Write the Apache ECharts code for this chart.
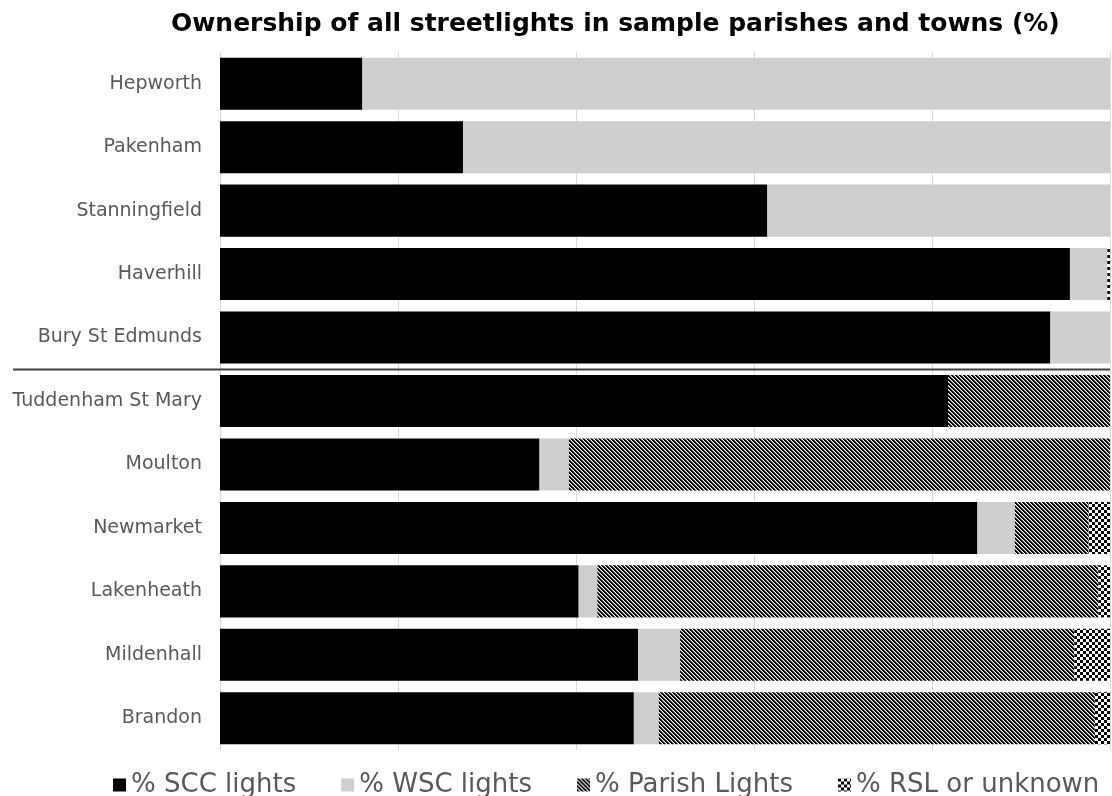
<!DOCTYPE html>
<html><head><meta charset="utf-8">
<script src="https://cdn.jsdelivr.net/npm/echarts@6/dist/echarts.min.js"></script>
<style>html,body{margin:0;padding:0;background:#fff}#c{width:1112px;height:796px}</style>
</head><body><div id="c"></div>
<script>
const categories = ['Hepworth','Pakenham','Stanningfield','Haverhill','Bury St Edmunds','Tuddenham St Mary','Moulton','Newmarket','Lakenheath','Mildenhall','Brandon'];
const sccValues = [16.0, 27.3, 61.5, 95.5, 93.3, 81.8, 35.9, 85.1, 40.3, 47.0, 46.5];
const wscValues = [84.0, 72.7, 38.5, 4.2, 6.7, 0, 3.3, 4.2, 2.1, 4.7, 2.8];
const parishValues = [0, 0, 0, 0, 0, 18.2, 60.8, 8.3, 56.3, 44.3, 49.0];
const rslValues = [0, 0, 0, 0.3, 0, 0, 0, 2.4, 1.3, 4.0, 1.7];
const seriesNames = ['% SCC lights','% WSC lights','% Parish Lights','% RSL or unknown'];
const xTicks = [0, 20, 40, 60, 80, 100];
const separatorAfter = 4; // line between 'Bury St Edmunds' and 'Tuddenham St Mary'

function hatchPattern(){
  const c = document.createElement('canvas'); c.width = 4; c.height = 4;
  const g = c.getContext('2d');
  g.fillStyle = '#fff'; g.fillRect(0,0,4,4);
  for (let y=0;y<4;y++) for (let x=0;x<4;x++){
    const d = ((x - y) % 4 + 4) % 4;
    if (d < 2){ g.fillStyle = '#000'; g.fillRect(x,y,1,1); }
    else if (d === 2){ g.fillStyle = '#777'; g.fillRect(x,y,1,1); }
  }
  return {image: c, repeat: 'repeat'};
}
function checkerPattern(){
  const c = document.createElement('canvas'); c.width = 6; c.height = 6;
  const g = c.getContext('2d');
  g.fillStyle = '#fff'; g.fillRect(0,0,6,6);
  g.fillStyle = '#000'; g.fillRect(0,0,3,3); g.fillRect(3,3,3,3);
  return {image: c, repeat: 'repeat'};
}

const chart = echarts.init(document.getElementById('c'), null, {renderer:'canvas'});
const FONT = '"DejaVu Sans", Verdana, sans-serif';
function mk(name, data, color){
  return {name, type:'bar', stack:'all', data, barCategoryGap:'18%',
    itemStyle:{color}, emphasis:{disabled:true}, animation:false};
}
chart.setOption({
  animation:false,
  title:{text:'Ownership of all streetlights in sample parishes and towns (%)', left:166, top:7,
    textStyle:{fontFamily:FONT, fontWeight:'bold', fontSize:25, color:'#000'}},
  grid:{left:220, right:2, top:52, bottom:46, containLabel:false},
  legend:{top:767, left:108, width:1004, padding:[5,0,5,5], icon:'rect', itemWidth:13, itemHeight:13, itemGap:45,
    textStyle:{fontFamily:FONT, fontSize:26, color:'#595959'}, data:seriesNames},
  xAxis:{type:'value', min:xTicks[0], max:xTicks[xTicks.length-1], interval:20,
    axisLabel:{show:false}, axisLine:{show:false}, axisTick:{show:false},
    splitLine:{show:true, lineStyle:{color:'#d9d9d9', width:1}}},
  yAxis:{type:'category', data:categories, inverse:true,
    axisLine:{show:true, lineStyle:{color:'#d9d9d9'}},
    axisTick:{show:false},
    axisLabel:{fontFamily:FONT, fontSize:19, color:'#595959', margin:18}},
  series:[
    mk(seriesNames[0], sccValues, '#000'),
    mk(seriesNames[1], wscValues, '#d0cece'),
    mk(seriesNames[2], parishValues, hatchPattern()),
    mk(seriesNames[3], rslValues, checkerPattern())
  ]
});
// separator drawn at the category boundary, position taken from the axis scale
const yA = chart.convertToPixel({yAxisIndex:0}, categories[separatorAfter]);
const yB = chart.convertToPixel({yAxisIndex:0}, categories[separatorAfter + 1]);
const ySep = Math.round((yA + yB) / 2) + 0.5;
const xRight = chart.convertToPixel({xAxisIndex:0}, xTicks[xTicks.length-1]);
chart.setOption({graphic:[{type:'line', shape:{x1:13, y1:ySep, x2:xRight, y2:ySep},
  style:{stroke:'#404040', lineWidth:2}, z:10}]});
</script></body></html>
